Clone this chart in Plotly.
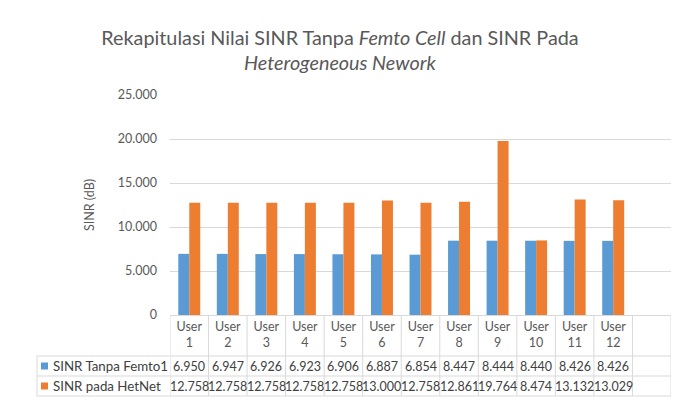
import plotly.graph_objects as go

# ---- data ----
categories = ["User 1", "User 2", "User 3", "User 4", "User 5", "User 6",
              "User 7", "User 8", "User 9", "User 10", "User 11", "User 12"]
series_names = ["SINR Tanpa Femto1", "SINR pada HetNet"]
sinr_tanpa_femto = [6.950, 6.947, 6.926, 6.923, 6.906, 6.887,
                    6.854, 8.447, 8.444, 8.440, 8.426, 8.426]
sinr_hetnet = [12.758, 12.758, 12.758, 12.758, 12.758, 13.000,
               12.758, 12.861, 19.764, 8.474, 13.132, 13.029]
y_tickvals = [0, 5, 10, 15, 20, 25]
y_ticktext = ["0", "5.000", "10.000", "15.000", "20.000", "25.000"]

title_text = ("Rekapitulasi Nilai SINR Tanpa <i>Femto Cell</i> dan SINR Pada"
              "<br><i>Heterogeneous Nework</i>")
y_title = "SINR (dB)"

# ---- styling ----
BLUE = "#5B9BD5"
ORANGE = "#ED7D31"
GRID = "#D9D9D9"
TXT = "#595959"
CELL_TXT = "#404040"
FONT = "Lato"

W, H = 680, 403
PLOT_L, PLOT_R, PLOT_T, PLOT_B = 170, 671, 95, 315
all_cats = categories + [" "]  # empty trailing column as in the reference


def py(p):
    return (PLOT_B - p) / (PLOT_B - PLOT_T)


def px(p):
    return (p - PLOT_L) / (PLOT_R - PLOT_L)


fig = go.Figure()
fig.add_trace(go.Bar(x=categories, y=sinr_tanpa_femto, name=series_names[0],
                     marker_color=BLUE, marker_line_width=0))
fig.add_trace(go.Bar(x=categories, y=sinr_hetnet, name=series_names[1],
                     marker_color=ORANGE, marker_line_width=0))

shapes = []
row_lines = [356, 376, 396]
row_centers = [366, 386]
left_edge = 37
for p in row_lines:
    shapes.append(dict(type="line", xref="paper", yref="paper",
                       x0=px(left_edge), x1=1, y0=py(p), y1=py(p),
                       line=dict(color=GRID, width=1)))
shapes.append(dict(type="line", xref="paper", yref="paper",
                   x0=px(left_edge), x1=px(left_edge), y0=py(356), y1=py(396),
                   line=dict(color=GRID, width=1)))
for i in range(len(all_cats) + 1):
    xv = i - 0.5
    shapes.append(dict(type="line", xref="x", yref="paper",
                       x0=xv, x1=xv, y0=py(PLOT_B), y1=py(396),
                       line=dict(color=GRID, width=1)))
key_colors = [BLUE, ORANGE]
for c, yc in zip(key_colors, row_centers):
    shapes.append(dict(type="rect", xref="paper", yref="paper",
                       x0=px(41), x1=px(48), y0=py(yc + 3.5), y1=py(yc - 3.5),
                       fillcolor=c, line=dict(width=0)))

annotations = []
for name, yc in zip(series_names, row_centers):
    annotations.append(dict(text=name, xref="paper", yref="paper",
                            x=px(51), y=py(yc), xanchor="left", yanchor="middle",
                            showarrow=False, font=dict(family=FONT, size=13.3, color=CELL_TXT)))
for vals, yc in zip([sinr_tanpa_femto, sinr_hetnet], row_centers):
    for cat, v in zip(categories, vals):
        annotations.append(dict(text=f"{v:.3f}", xref="x", yref="paper",
                                x=cat, y=py(yc), xanchor="center", yanchor="middle",
                                showarrow=False,
                                font=dict(family=FONT, size=12.5, color=CELL_TXT)))

fig.update_layout(
    width=W, height=H,
    margin=dict(l=PLOT_L, r=W - PLOT_R, t=PLOT_T, b=H - PLOT_B, pad=0),
    paper_bgcolor="white", plot_bgcolor="white",
    barmode="group", bargap=0.43, bargroupgap=0,
    showlegend=False,
    title=dict(text=title_text, x=0.5, xanchor="center", y=1 - 44.5 / H, yanchor="top",
               font=dict(family=FONT, size=19.8, color=TXT)),
    xaxis=dict(type="category", categoryorder="array", categoryarray=all_cats,
               range=[-0.5, len(all_cats) - 0.5],
               tickvals=categories,
               ticktext=[c.replace(" ", "<br>") for c in categories],
               tickfont=dict(family=FONT, size=12.5, color=TXT),
               showline=True, linecolor=GRID, linewidth=1,
               showgrid=False, ticks="", ticklabelstandoff=0),
    yaxis=dict(range=[0, 25], tickvals=y_tickvals, ticktext=y_ticktext,
               tickfont=dict(family=FONT, size=12.5, color=TXT),
               showgrid=True, gridcolor=GRID, gridwidth=1, zeroline=False,
               showline=False, ticks="", ticklabelstandoff=12,
               title=dict(text=y_title, standoff=20,
                          font=dict(family=FONT, size=12.5, color=TXT))),
    shapes=shapes, annotations=annotations,
)

fig.write_html("out.html",
               config={"displayModeBar": False},
               post_script="document.body.style.margin='0';document.body.style.padding='0';")
